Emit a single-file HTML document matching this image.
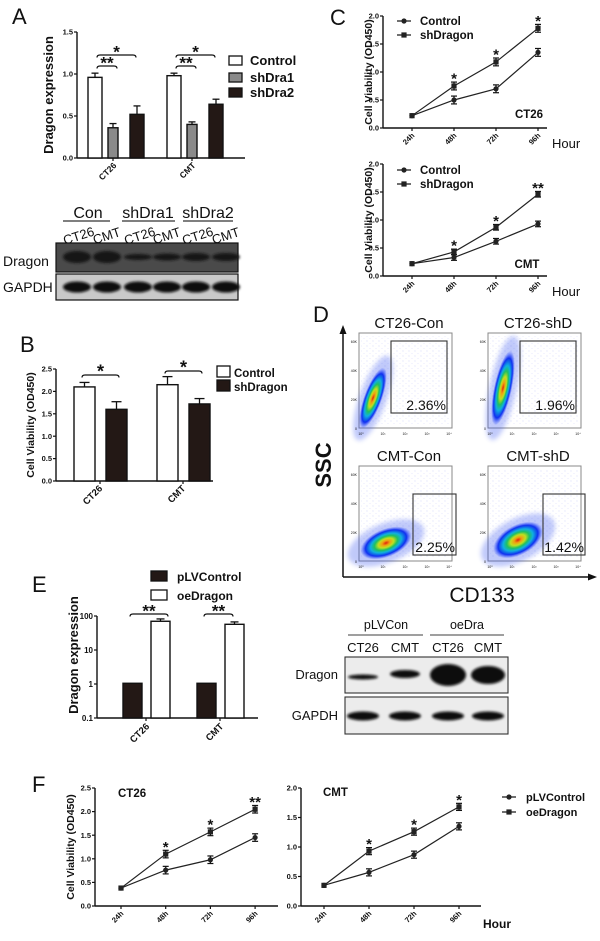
<!DOCTYPE html>
<html><head><meta charset="utf-8">
<style>
html,body{margin:0;padding:0;background:#fff;}
svg{display:block;font-family:"Liberation Sans",Arial,sans-serif;}
</style></head>
<body>
<svg id="fig" width="600" height="941" viewBox="0 0 600 941" xmlns="http://www.w3.org/2000/svg">
<defs>
<filter id="blur1" x="-20%" y="-50%" width="140%" height="200%"><feGaussianBlur stdDeviation="1.4"/></filter>
<filter id="blur2" x="-30%" y="-30%" width="160%" height="160%"><feGaussianBlur stdDeviation="2.5"/></filter>
<pattern id="dots" width="6" height="5" patternUnits="userSpaceOnUse">
<circle cx="1" cy="1" r="0.45" fill="#3040e0"/><circle cx="4" cy="3.5" r="0.4" fill="#5060f0"/>
</pattern>
<radialGradient id="flow" cx="50%" cy="50%" r="50%">
<stop offset="0" stop-color="#e02010"/><stop offset="0.15" stop-color="#f0a010"/>
<stop offset="0.3" stop-color="#c0e020"/><stop offset="0.45" stop-color="#20c060"/>
<stop offset="0.6" stop-color="#10b0e0"/><stop offset="0.8" stop-color="#1030f0"/>
<stop offset="1" stop-color="#3050ff" stop-opacity="0"/>
</radialGradient>
</defs>
<g id="root"></g>
</svg>
<script>
// ---------- DATA ----------
const aCats = ['CT26', 'CMT'];
const aControl = [0.96, 0.98];
const aShDra1 = [0.36, 0.40];
const aShDra2 = [0.52, 0.64];
const aControlErr = [0.05, 0.03];
const aShDra1Err = [0.05, 0.03];
const aShDra2Err = [0.10, 0.06];
const aTicks = [0, 0.5, 1.0, 1.5];

const bCats = ['CT26', 'CMT'];
const bControl = [2.10, 2.15];
const bShDragon = [1.60, 1.72];
const bControlErr = [0.10, 0.18];
const bShDragonErr = [0.17, 0.12];
const bTicks = [0, 0.5, 1.0, 1.5, 2.0, 2.5];

const hours = ['24h', '48h', '72h', '96h'];
const cCT26Control = [0.22, 0.75, 1.18, 1.78];
const cCT26ShDragon = [0.22, 0.50, 0.70, 1.35];
const cCMTControl = [0.22, 0.43, 0.87, 1.46];
const cCMTShDragon = [0.22, 0.33, 0.62, 0.93];
const cCT26Stars = ['', '*', '*', '*'];
const cCMTStars = ['', '*', '*', '**'];
const cTicks = [0, 0.5, 1.0, 1.5, 2.0];

const eCats = ['CT26', 'CMT'];
const ePLVControl = [1.05, 1.05];
const eOeDragon = [70, 57];
const eOeErr = [12, 10];
const eTicks = [0.1, 1, 10, 100];

const fCT26PLV = [0.38, 0.76, 0.98, 1.45];
const fCT26Oe = [0.38, 1.10, 1.57, 2.05];
const fCMTPLV = [0.35, 0.57, 0.87, 1.35];
const fCMTOe = [0.35, 0.93, 1.26, 1.68];
const fCT26Stars = ['', '*', '*', '**'];
const fCMTStars = ['', '*', '*', '*'];
const fCT26Ticks = [0, 0.5, 1.0, 1.5, 2.0, 2.5];
const fCMTTicks = [0, 0.5, 1.0, 1.5, 2.0];

// ---------- HELPERS ----------
const NS = 'http://www.w3.org/2000/svg';
const root = document.getElementById('root');
function el(tag, attrs, parent) {
  const e = document.createElementNS(NS, tag);
  for (const k in attrs) e.setAttribute(k, attrs[k]);
  (parent || root).appendChild(e);
  return e;
}
function txt(s, x, y, size, opts, name) {
  opts = opts || {};
  const t = el('text', {x: x, y: y, 'font-size': size, 'font-weight': opts.w || 'bold', 'text-anchor': opts.a || 'start', fill: opts.fill || '#111'}, opts.p);
  if (opts.rot !== undefined) t.setAttribute('transform', 'rotate(' + opts.rot + ' ' + x + ' ' + y + ')');
  t.textContent = s;
  
  
  return t;
}
function line(x1, y1, x2, y2, w, name, col) {
  const l = el('line', {x1: x1, y1: y1, x2: x2, y2: y2, stroke: col || '#111', 'stroke-width': w || 1.2});
  
  
  return l;
}
function linScale(v0, v1, p0, p1) { return v => p0 + (v - v0) / (v1 - v0) * (p1 - p0); }

function yAxis(x, scale, ticks, fmt, y0, y1, size, name) {
  line(x, y0, x, y1, 1.4, name + '-y-axis');
  ticks.forEach(t => {
    const y = scale(t);
    line(x - 3, y, x, y, 1.2, name + '-y-tick');
    txt(fmt(t), x - 4, y + size * 0.35, size, {a: 'end'}, name + '-y-tick-label');
  });
}
function bar(x, w, v, scale, base, fill, name) {
  const y = scale(v);
  const r = el('rect', {x: x, y: y, width: w, height: base - y, fill: fill, stroke: '#111', 'stroke-width': 1.4});
  
  
  return r;
}
function errBar(cx, v, e, scale, cap, name) {
  const y1 = scale(v), y2 = scale(v + e);
  line(cx, y1, cx, y2, 1.3, name);
  line(cx - cap, y2, cx + cap, y2, 1.3, name + '-cap');
}
function errBoth(cx, v, e, scale, name) {
  const ya = scale(v - e), yb = scale(v + e);
  line(cx, ya, cx, yb, 1.2, name);
  line(cx - 3, ya, cx + 3, ya, 1.2, name + '-cap');
  line(cx - 3, yb, cx + 3, yb, 1.2, name + '-cap');
}
function bracket(x1, x2, y, star, size, name) {
  const p = el('path', {d: 'M' + x1 + ' ' + (y + 2.5) + ' Q' + x1 + ' ' + y + ' ' + (x1 + 3) + ' ' + y + ' L' + (x2 - 3) + ' ' + y + ' Q' + x2 + ' ' + y + ' ' + x2 + ' ' + (y + 2.5), fill: 'none', stroke: '#111', 'stroke-width': 1.2});
  
  
  txt(star, (x1 + x2) / 2, y + size * 0.15, size, {a: 'middle'}, name + '-stars');
}
function marker(kind, x, y, s, name) {
  let m;
  if (kind === 'circle') m = el('circle', {cx: x, cy: y, r: s, fill: '#222'});
  else m = el('rect', {x: x - s, y: y - s, width: 2 * s, height: 2 * s, fill: '#222'});
  
  
  return m;
}
function series(xs, vals, scale, kind, name, err) {
  let d = '';
  vals.forEach((v, i) => { d += (i ? 'L' : 'M') + xs[i] + ' ' + scale(v); });
  const p = el('path', {d: d, fill: 'none', stroke: '#222', 'stroke-width': 1.2});
  
  
  vals.forEach((v, i) => {
    if (i > 0) errBoth(xs[i], v, err, scale, name + '-error-bar');
    marker(kind, xs[i], scale(v), 2.6, name + '-point');
  });
}
function lineChart(o) {
  const xs = o.hours.map((h, i) => o.x0 + i * o.dx);
  yAxis(o.ax, o.scale, o.ticks, t => t.toFixed(1), o.scale(o.ticks[o.ticks.length - 1]), o.scale(0), 7.5, o.name);
  line(o.ax, o.scale(0), o.axEnd, o.scale(0), 1.4, o.name + '-x-axis');
  xs.forEach((x, i) => {
    line(x, o.scale(0), x, o.scale(0) + 3, 1.2, o.name + '-x-tick');
    txt(o.hours[i], x + 3, o.scale(0) + 8, 7.5, {a: 'end', rot: -45}, o.name + '-x-tick-label');
  });
  series(xs, o.lower, o.scale, 'circle', o.name + '-' + o.lowerName, o.err);
  series(xs, o.upper, o.scale, 'square', o.name + '-' + o.upperName, o.err);
  o.stars.forEach((s, i) => { if (s) txt(s, xs[i], o.scale(o.upper[i] + o.err) + 1.5, 15, {a: 'middle'}, o.name + '-significance'); });
}

// ---------- PANEL A ----------
txt('A', 12, 24, 22, {w: 'normal'}, 'panel-a-label');
const ayA = linScale(0, 1.5, 158, 32);
yAxis(77, ayA, aTicks, t => t.toFixed(1), 32, 158, 7.5, 'panel-a');
line(77, 158, 245, 158, 1.4, 'panel-a-x-axis');
txt('Dragon expression', 53, 95, 13, {a: 'middle', rot: -90}, 'panel-a-y-axis-title');
const aGroupX = [88, 167];
aCats.forEach((c, i) => {
  const g = aGroupX[i];
  bar(g, 14, aControl[i], ayA, 158, '#fff', 'bar-a-control-' + c);
  errBar(g + 7, aControl[i], aControlErr[i], ayA, 3.5, 'err-a-control');
  bar(g + 20, 10, aShDra1[i], ayA, 158, '#8a8a8a', 'bar-a-shdra1-' + c);
  errBar(g + 25, aShDra1[i], aShDra1Err[i], ayA, 3.5, 'err-a-shdra1');
  bar(g + 42, 14, aShDra2[i], ayA, 158, '#231815', 'bar-a-shdra2-' + c);
  errBar(g + 49, aShDra2[i], aShDra2Err[i], ayA, 3.5, 'err-a-shdra2');
  line(g + 25, 158, g + 25, 161, 1.2, 'panel-a-x-tick');
  txt(c, g + 29, 166, 8.5, {a: 'end', rot: -45}, 'panel-a-category-label');
  bracket(g + 9, g + 29, 66, '**', 17, 'panel-a-bracket-shdra1');
  bracket(g + 9, g + 48, 55, '*', 17, 'panel-a-bracket-shdra2');
});
[['Control', '#fff', 56], ['shDra1', '#8a8a8a', 73], ['shDra2', '#231815', 88]].forEach(l => {
  const r = el('rect', {x: 229, y: l[2], width: 13, height: 9, fill: l[1], stroke: '#111', 'stroke-width': 1.3});
  
  
  txt(l[0], 250, l[2] + 9, 13, {}, 'legend-entry-' + l[0].toLowerCase());
});

// Western blot A
[['Con', 88, 63, 110], ['shDra1', 148, 122, 175], ['shDra2', 208, 183, 233]].forEach(g => {
  txt(g[0], g[1], 218, 16, {a: 'middle', w: 'normal'}, 'blot-a-group-' + g[0].toLowerCase());
  line(g[2], 221, g[3], 221, 1.2, 'blot-a-group-underline', '#333');
});
const laneA = [74, 104, 135, 164, 193, 223];
laneA.forEach((x, i) => txt(i % 2 ? 'CMT' : 'CT26', x + (i % 2 ? 4 : 6), 240, 13, {a: 'middle', w: 'normal', rot: -18}, 'blot-a-lane-label'));
let r = el('rect', {x: 56, y: 243, width: 182, height: 29, fill: '#4a4a4a', stroke: '#111', 'stroke-width': 1.2});


r = el('rect', {x: 56, y: 274, width: 182, height: 26, fill: '#c9c9c9', stroke: '#111', 'stroke-width': 1.2});


const dragA = [6, 6, 3, 3.5, 4, 4];
laneA.forEach((x, i) => {
  let b = el('ellipse', {cx: x + 3, cy: 257, rx: 14, ry: dragA[i], fill: '#151515', filter: 'url(#blur1)'});
  
  
  b = el('ellipse', {cx: x + 3, cy: 287, rx: 14, ry: 5.5, fill: '#0c0c0c', filter: 'url(#blur1)'});
  
  
});
txt('Dragon', 3, 266, 14, {w: 'normal'}, 'blot-a-dragon-label');
txt('GAPDH', 3, 292, 14, {w: 'normal'}, 'blot-a-gapdh-label');

// ---------- PANEL C ----------
txt('C', 330, 25, 22, {w: 'normal'}, 'panel-c-label');
const cyTop = linScale(0, 2.0, 128, 16);
const cyBot = linScale(0, 2.0, 276, 164);
lineChart({hours: hours, x0: 412, dx: 42, ax: 383, axEnd: 547, scale: cyTop, ticks: cTicks, lower: cCT26ShDragon, upper: cCT26Control, lowerName: 'shdragon', upperName: 'control', stars: cCT26Stars, err: 0.07, name: 'panel-c-ct26'});
lineChart({hours: hours, x0: 412, dx: 42, ax: 383, axEnd: 547, scale: cyBot, ticks: cTicks, lower: cCMTShDragon, upper: cCMTControl, lowerName: 'shdragon', upperName: 'control', stars: cCMTStars, err: 0.05, name: 'panel-c-cmt'});
txt('Cell Viability (OD450)', 372, 72, 10.5, {a: 'middle', rot: -90}, 'panel-c-ct26-y-axis-title');
txt('Cell Viability (OD450)', 372, 220, 10.5, {a: 'middle', rot: -90}, 'panel-c-cmt-y-axis-title');
txt('CT26', 529, 118, 11.5, {a: 'middle'}, 'panel-c-ct26-title');
txt('CMT', 527, 268, 11.5, {a: 'middle'}, 'panel-c-cmt-title');
txt('Hour', 552, 148, 13, {w: 'normal'}, 'panel-c-ct26-x-axis-title');
txt('Hour', 552, 296, 13, {w: 'normal'}, 'panel-c-cmt-x-axis-title');
[21, 170].forEach(y0 => {
  line(397, y0, 411, y0, 1.2, 'legend-line');
  marker('circle', 404, y0, 2.6, 'legend-marker-control');
  txt('Control', 420, y0 + 4, 11.5, {}, 'legend-entry-control');
  line(397, y0 + 14, 411, y0 + 14, 1.2, 'legend-line');
  marker('square', 404, y0 + 14, 2.6, 'legend-marker-shdragon');
  txt('shDragon', 420, y0 + 18, 11.5, {}, 'legend-entry-shdragon');
});

// ---------- PANEL B ----------
txt('B', 20, 352, 22, {w: 'normal'}, 'panel-b-label');
const byB = linScale(0, 2.5, 481, 369);
yAxis(56, byB, bTicks, t => t.toFixed(1), 369, 481, 7.5, 'panel-b');
line(56, 481, 213, 481, 1.4, 'panel-b-x-axis');
txt('Cell Viability (OD450)', 34, 425, 10.5, {a: 'middle', rot: -90}, 'panel-b-y-axis-title');
const bGroupX = [74, 157];
bCats.forEach((c, i) => {
  const g = bGroupX[i];
  bar(g, 21, bControl[i], byB, 481, '#fff', 'bar-b-control-' + c);
  errBar(g + 10.5, bControl[i], bControlErr[i], byB, 5, 'err-b-control');
  bar(g + 32, 21, bShDragon[i], byB, 481, '#231815', 'bar-b-shdragon-' + c);
  errBar(g + 42.5, bShDragon[i], bShDragonErr[i], byB, 5, 'err-b-shdragon');
  line(g + 26, 481, g + 26, 484, 1.2, 'panel-b-x-tick');
  txt(c, g + 29, 489, 9.5, {a: 'end', rot: -45}, 'panel-b-category-label');
  bracket(g + 8, g + 45, i ? 371 : 375, '*', 18, 'panel-b-bracket');
});
[['Control', '#fff', 366], ['shDragon', '#231815', 380]].forEach(l => {
  const rr = el('rect', {x: 217, y: l[2], width: 13, height: 11, fill: l[1], stroke: '#111', 'stroke-width': 1.3});
  
  
  txt(l[0], 234, l[2] + 11, 11.5, {}, 'legend-entry-b-' + l[0].toLowerCase());
});

// ---------- PANEL D ----------
txt('D', 313, 322, 22, {w: 'normal'}, 'panel-d-label');
line(343, 332, 343, 577, 1.5, 'panel-d-y-axis');
line(343, 577, 590, 577, 1.5, 'panel-d-x-axis');
let ar = el('path', {d: 'M343 325 L339.5 334 L346.5 334 Z', fill: '#111'});


ar = el('path', {d: 'M597 577 L588 573.5 L588 580.5 Z', fill: '#111'});


txt('SSC', 331, 465, 22, {a: 'middle', rot: -90}, 'panel-d-y-axis-title');
txt('CD133', 482, 602, 21, {a: 'middle', w: 'normal'}, 'panel-d-x-axis-title');
const flowPlots = [
  {title: 'CT26-Con', pct: '2.36%', x: 359, y: 333, gx: 391, gy: 341, gw: 56, gh: 72, bx: 373, by: 398, rx: 9, ry: 32, rot: 20, name: 'ct26-con'},
  {title: 'CT26-shD', pct: '1.96%', x: 488, y: 333, gx: 520, gy: 341, gw: 56, gh: 72, bx: 503, by: 388, rx: 9, ry: 38, rot: 12, name: 'ct26-shd'},
  {title: 'CMT-Con', pct: '2.25%', x: 359, y: 466, gx: 413, gy: 494, gw: 43, gh: 61, bx: 386, by: 543, rx: 27, ry: 14, rot: -22, name: 'cmt-con'},
  {title: 'CMT-shD', pct: '1.42%', x: 488, y: 466, gx: 543, gy: 494, gw: 42, gh: 61, bx: 518, by: 540, rx: 27, ry: 15, rot: -28, name: 'cmt-shd'}
];
flowPlots.forEach(f => {
  const fr = el('rect', {x: f.x, y: f.y, width: 93, height: 95, fill: '#fff', stroke: '#888', 'stroke-width': 1});
  
  
  const sc = el('rect', {x: f.x + 2, y: f.y + 3, width: 88, height: 88, fill: 'url(#dots)', opacity: 0.3});
  
  
  const halo = el('ellipse', {cx: f.bx, cy: f.by, rx: f.rx * 1.5, ry: f.ry * 1.4, fill: '#3050f0', opacity: 0.3, filter: 'url(#blur2)', transform: 'rotate(' + f.rot + ' ' + f.bx + ' ' + f.by + ')'});
  
  
  const blob = el('ellipse', {cx: f.bx, cy: f.by, rx: f.rx, ry: f.ry, fill: 'url(#flow)', transform: 'rotate(' + f.rot + ' ' + f.bx + ' ' + f.by + ')'});
  
  
  const g = el('rect', {x: f.gx, y: f.gy, width: f.gw, height: f.gh, fill: 'none', stroke: '#333', 'stroke-width': 1.1});
  
  
  txt(f.pct, f.gx + f.gw - 1, f.gy + f.gh - 3, 14, {a: 'end', w: 'normal'}, 'flow-percent-' + f.name);
  txt(f.title, f.x + 50, f.y - 5, 15, {a: 'middle', w: 'normal'}, 'flow-title-' + f.name);
  ['60K', '40K', '20K', '0'].forEach((t, i) => txt(t, f.x - 2, f.y + 10 + i * 29, 3.5, {a: 'end', w: 'normal'}, 'flow-y-tick'));
  ['10⁰', '10¹', '10²', '10³', '10⁴'].forEach((t, i) => txt(t, f.x + 2 + i * 22, f.y + 102, 3.5, {a: 'middle', w: 'normal'}, 'flow-x-tick'));
});

// ---------- PANEL E ----------
txt('E', 32, 592, 22, {w: 'normal'}, 'panel-e-label');
[['pLVControl', '#231815', 571], ['oeDragon', '#fff', 590]].forEach(l => {
  const rr = el('rect', {x: 151, y: l[2], width: 16, height: 10, fill: l[1], stroke: '#111', 'stroke-width': 1.3});
  
  
  txt(l[0], 177, l[2] + 10, 12, {}, 'legend-entry-e-' + l[0].toLowerCase());
});
const eyE = v => 718 - (Math.log10(v) + 1) * 34;
yAxis(97, eyE, eTicks, t => String(t), 616, 718, 8, 'panel-e');
line(97, 718, 258, 718, 1.4, 'panel-e-x-axis');
txt('Dragon expression', 78, 655, 13, {a: 'middle', rot: -90}, 'panel-e-y-axis-title');
const eGroupX = [123, 197];
eCats.forEach((c, i) => {
  const g = eGroupX[i];
  bar(g, 19, ePLVControl[i], eyE, 718, '#231815', 'bar-e-plvcontrol-' + c);
  bar(g + 28, 19, eOeDragon[i], eyE, 718, '#fff', 'bar-e-oedragon-' + c);
  errBar(g + 37.5, eOeDragon[i], eOeErr[i], eyE, 4, 'err-e-oedragon');
  line(g + 23, 718, g + 23, 721, 1.2, 'panel-e-x-tick');
  txt(c, g + 27, 727, 9.5, {a: 'end', rot: -45}, 'panel-e-category-label');
  bracket(g + 7, g + 36 + (i ? 0 : 9), 614, '**', 17, 'panel-e-bracket');
});

// Western blot E
[['pLVCon', 386, 348, 423], ['oeDra', 467, 430, 504]].forEach(g => {
  txt(g[0], g[1], 629, 12.5, {a: 'middle', w: 'normal'}, 'blot-e-group-' + g[0].toLowerCase());
  line(g[2], 635, g[3], 635, 1.2, 'blot-e-group-underline', '#666');
});
const laneE = [363, 405, 448, 488];
laneE.forEach((x, i) => txt(i % 2 ? 'CMT' : 'CT26', x, 652, 13, {a: 'middle', w: 'normal'}, 'blot-e-lane-label'));
r = el('rect', {x: 345, y: 657, width: 163, height: 36, fill: '#ececec', stroke: '#333', 'stroke-width': 1.1});


r = el('rect', {x: 345, y: 697, width: 163, height: 37, fill: '#ececec', stroke: '#333', 'stroke-width': 1.1});


const dragE = [[677, 2.5, 15], [674, 4, 15], [675, 11, 18], [675, 9, 17]];
laneE.forEach((x, i) => {
  let b = el('ellipse', {cx: x, cy: dragE[i][0], rx: dragE[i][2], ry: dragE[i][1], fill: '#0a0a0a', filter: 'url(#blur1)'});
  
  
  b = el('ellipse', {cx: x, cy: 716, rx: 16, ry: 4.5, fill: '#0a0a0a', filter: 'url(#blur1)'});
  
  
});
txt('Dragon', 338, 679, 13, {a: 'end', w: 'normal'}, 'blot-e-dragon-label');
txt('GAPDH', 338, 720, 13, {a: 'end', w: 'normal'}, 'blot-e-gapdh-label');

// ---------- PANEL F ----------
txt('F', 32, 792, 22, {w: 'normal'}, 'panel-f-label');
const fyL = linScale(0, 2.5, 906, 788);
const fyR = linScale(0, 2.0, 906, 788);
lineChart({hours: hours, x0: 121, dx: 44.7, ax: 95, axEnd: 278, scale: fyL, ticks: fCT26Ticks, lower: fCT26PLV, upper: fCT26Oe, lowerName: 'plvcontrol', upperName: 'oedragon', stars: fCT26Stars, err: 0.08, name: 'panel-f-ct26'});
lineChart({hours: hours, x0: 324, dx: 45, ax: 301, axEnd: 481, scale: fyR, ticks: fCMTTicks, lower: fCMTPLV, upper: fCMTOe, lowerName: 'plvcontrol', upperName: 'oedragon', stars: fCMTStars, err: 0.06, name: 'panel-f-cmt'});
txt('Cell Viability (OD450)', 74, 847, 10.5, {a: 'middle', rot: -90}, 'panel-f-y-axis-title');
txt('CT26', 118, 797, 11.5, {}, 'panel-f-ct26-title');
txt('CMT', 323, 796, 11.5, {}, 'panel-f-cmt-title');
txt('Hour', 483, 928, 12, {}, 'panel-f-x-axis-title');
line(502, 797, 516, 797, 1.2, 'legend-line');
marker('circle', 509, 797, 2.6, 'legend-marker-plvcontrol');
txt('pLVControl', 526, 801, 11, {}, 'legend-entry-plvcontrol');
line(502, 812, 516, 812, 1.2, 'legend-line');
marker('square', 509, 812, 2.6, 'legend-marker-oedragon');
txt('oeDragon', 526, 816, 11, {}, 'legend-entry-oedragon');
</script>
</body></html>
